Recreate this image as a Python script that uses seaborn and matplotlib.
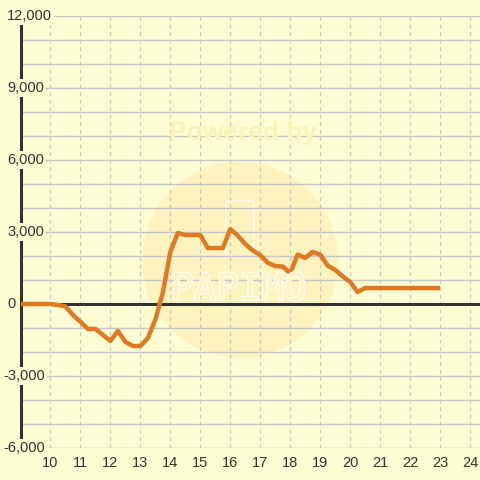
import seaborn as sns
import matplotlib.pyplot as plt
import matplotlib.patches as mpatches
import matplotlib.patheffects as pe
from matplotlib.transforms import blended_transform_factory
import pandas as pd

# time of day (hours) and running balance
times = [9.0, 10.0, 10.25, 10.5, 10.75, 11.0, 11.25, 11.5, 11.75, 12.0, 12.25, 12.5,
         12.75, 13.0, 13.25, 13.5, 13.75, 14.0, 14.25, 14.5, 14.75, 15.0, 15.25, 15.5,
         15.75, 16.0, 16.25, 16.5, 16.75, 17.0, 17.25, 17.5, 17.75, 18.0, 18.25, 18.5,
         18.75, 19.0, 19.25, 19.5, 19.75, 20.0, 20.25, 20.5, 23.0]
values = [0, 0, -40, -100, -460, -740, -1040, -1040, -1290, -1540, -1120, -1580,
          -1750, -1750, -1420, -650, 480, 2170, 2960, 2875, 2875, 2875, 2330, 2330,
          2330, 3125, 2850, 2500, 2230, 2040, 1720, 1580, 1560, 1290, 2060, 1920,
          2170, 2060, 1600, 1420, 1150, 920, 500, 665, 665]
x_ticks = list(range(10, 25))
y_labels = [12000, 9000, 6000, 3000, 0, -3000, -6000]

bg = '#fdfdd3'
grid_col = '#c6c6cc'
dark = '#333333'
circ = '#fcf3bf'

sns.set_theme(style='white')
plt.rcParams['font.family'] = ['Liberation Sans', 'DejaVu Sans']

df = pd.DataFrame({'time': times, 'value': values})

fig = plt.figure(figsize=(4.8, 4.8), dpi=100, facecolor=bg)
ax = fig.add_axes([20.5 / 480, 32 / 480, 459.5 / 480, 432 / 480])
ax.set_facecolor(bg)

# watermark
ax.add_patch(mpatches.Circle((240 / 480, 1 - 260 / 480), 98 / 480, transform=fig.transFigure,
                             facecolor=circ, edgecolor='none', zorder=0.1))
ax.add_patch(mpatches.FancyBboxPatch((226 / 480, 1 - 257 / 480), 28 / 480, 56 / 480,
                                     boxstyle='round,pad=0,rounding_size=0.006',
                                     transform=fig.transFigure, facecolor='none',
                                     edgecolor='white', lw=1.2, alpha=0.7, zorder=0.2))
fig.text(243 / 480, 1 - 133 / 480, 'Powered by', ha='center', va='center', fontsize=19,
         fontweight='bold', color='#f9f2b9', zorder=0.2)
fig.text(239 / 480, 1 - 290 / 480, 'PAPIMO', ha='center', va='center', fontsize=27,
         family='DejaVu Sans Mono', color=circ, alpha=0.9, zorder=0.2,
         path_effects=[pe.withStroke(linewidth=1.6, foreground='white')])

ax.set_axisbelow(True)
ax.set_xlim(9, 9 + 460 / 30)
ax.set_ylim(-6000, 12000)
ax.set_yticks(range(-6000, 12001, 1000))
ax.set_xticks(x_ticks)
ax.set_xticklabels([str(t) for t in x_ticks])
ax.set_yticklabels([])
ax.grid(axis='y', color=grid_col, lw=1, ls='-')
ax.grid(axis='x', color=grid_col, lw=0.9, ls=(0, (3, 3)))
ax.tick_params(axis='both', length=0)
ax.tick_params(axis='x', pad=6, labelsize=10.5, labelcolor=dark)

for s in ['top', 'right', 'bottom']:
    ax.spines[s].set_visible(False)
ax.spines['left'].set_color(dark)
ax.spines['left'].set_linewidth(2.2)
ax.spines['left'].set_zorder(2)

ax.axhline(0, color=dark, lw=2.2, zorder=2)

sns.lineplot(data=df, x='time', y='value', ax=ax, color='#e07a22', lw=3.2,
             solid_capstyle='butt', zorder=3)
ax.set_xlabel('')
ax.set_ylabel('')

tr = blended_transform_factory(fig.transFigure, ax.transData)
for v in y_labels:
    xpos = 3 / 480 if v < 0 else 7 / 480
    ax.text(xpos, v, f'{v:,}', transform=tr, ha='left', va='center', fontsize=10.5,
            color=dark, zorder=4, bbox=dict(facecolor=bg, edgecolor='none', pad=1.5))

fig.savefig('out.png', dpi=100, facecolor=bg)
